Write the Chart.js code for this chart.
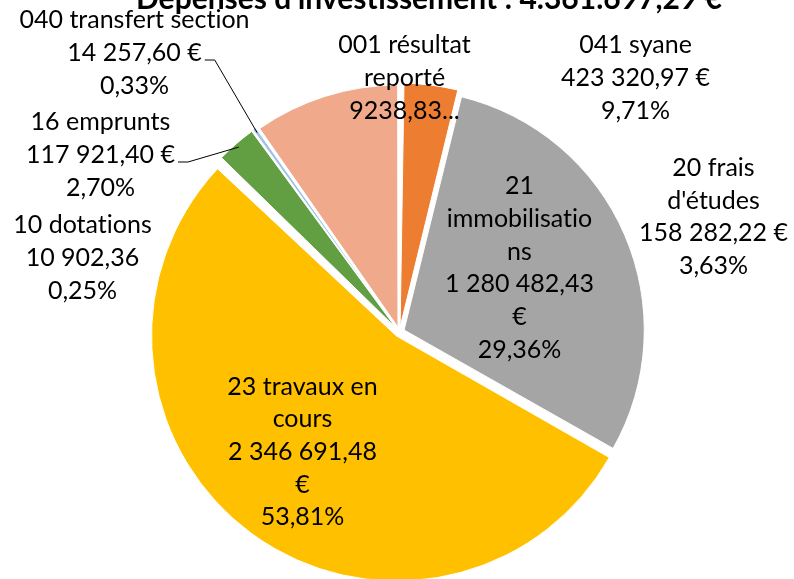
<!DOCTYPE html>
<html>
<head>
<meta charset="utf-8">
<script src="https://cdn.jsdelivr.net/npm/chart.js@4"></script>
<style>
  html, body { margin: 0; padding: 0; background: #fff; }
  #wrap { width: 794px; height: 579px; position: relative; }
</style>
</head>
<body>
<div id="wrap"><canvas id="pie"></canvas></div>
<script>
// data, clockwise from 12 o'clock
const titleText = "Dépenses d'investissement : 4.361.697,29 €";
const categories = ['001 résultat reporté', "20 frais d'études", '21 immobilisations', '23 travaux en cours',
                    '10 dotations', '16 emprunts', '040 transfert section', '041 syane'];
const amounts = [9238.83, 158282.22, 1280482.43, 2346691.48, 10902.36, 117921.40, 14257.60, 423320.97];
// \u200C keeps Lato from joining "ti" into a ligature
const labelLines = [
  ['001 résultat', 'reporté', '9238,83...'],
  ['20 frais', "d'études", '158 282,22 €', '3,63%'],
  ['21', 'immobilisat\u200Cio', 'ns', '1 280 482,43', '€', '29,36%'],
  ['23 travaux en', 'cours', '2 346 691,48', '€', '53,81%'],
  ['10 dotat\u200Cions', '10 902,36', '0,25%'],
  ['16 emprunts', '117 921,40 €', '2,70%'],
  ['040 transfert sect\u200Cion', '14 257,60 €', '0,33%'],
  ['041 syane', '423 320,97 €', '9,71%']
];

const colors = ['#ffffff', '#ED7D31', '#A5A5A5', '#FFC000', '#ffffff', '#629E42', '#9DC3E6', '#F0A98A'];
// label block centre, relative to the pie centre
const labelOffsets = [[5, -254], [314, -115], [120, -64], [-97, 120], [-317, -74], [-299, -177], [-265, -279], [236, -254]];
const hasLeader = [false, false, false, false, false, true, true, false];
const explode = 5;   // px, chart.js divides the offset option by 4
const lineH = 32.7;

const pieLabels = {
  id: 'pieLabels',
  afterDatasetsDraw(chart) {
    const ctx = chart.ctx;
    const arcs = chart.getDatasetMeta(0).data;
    const cx = arcs[0].x, cy = arcs[0].y;
    ctx.save();
    ctx.fillStyle = '#000';
    ctx.strokeStyle = '#000';
    ctx.lineWidth = 1;
    ctx.textAlign = 'center';
    ctx.textBaseline = 'middle';
    ctx.font = '25px Lato';
    labelLines.forEach((lines, i) => {
      const x = cx + labelOffsets[i][0];
      const y0 = cy + labelOffsets[i][1] - (lines.length - 1) * lineH / 2;
      lines.forEach((t, j) => ctx.fillText(t, x, y0 + j * lineH));
      if (hasLeader[i]) {
        const a = arcs[i];
        const mid = (a.startAngle + a.endAngle) / 2;
        const ex = a.x + Math.cos(mid) * (a.outerRadius + explode);
        const ey = a.y + Math.sin(mid) * (a.outerRadius + explode);
        const w = ctx.measureText(lines[1]).width;
        const sx = x + w / 2 + 3, sy = y0 + lineH + 7;
        ctx.beginPath();
        ctx.moveTo(sx, sy);
        ctx.lineTo(sx + 10, sy);
        ctx.lineTo(ex, ey);
        ctx.stroke();
      }
    });
    // title, cut off by the top edge like the original
    ctx.font = 'bold 30px Lato';
    ctx.textBaseline = 'alphabetic';
    ctx.fillText(titleText, 429, 9);
    ctx.restore();
  }
};

const ctx = document.getElementById('pie').getContext('2d');
const pieChart = new Chart(ctx, {
  type: 'pie',
  data: {
    labels: categories,
    datasets: [{
      data: amounts,
      backgroundColor: colors,
      borderColor: '#fff',
      borderWidth: 1,
      offset: explode * 4,
      clip: false
    }]
  },
  options: {
    responsive: true,
    maintainAspectRatio: false,
    animation: false,
    radius: 240,
    layout: { padding: { top: 85, left: 5, right: 0, bottom: 0 } },
    plugins: {
      legend: { display: false },
      tooltip: { enabled: false },
      title: { display: false }
    }
  },
  plugins: [pieLabels]
});
</script>
</body>
</html>
